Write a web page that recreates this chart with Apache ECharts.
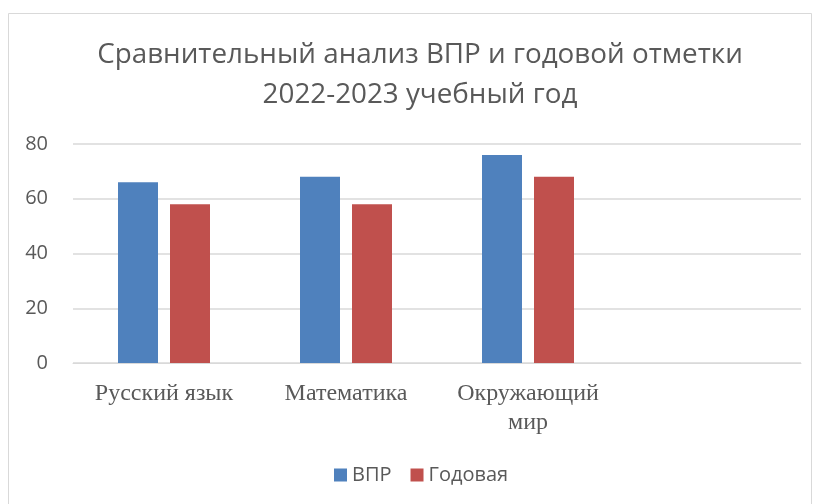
<!DOCTYPE html>
<html><head><meta charset="utf-8">
<script src="https://cdn.jsdelivr.net/npm/echarts@6/dist/echarts.min.js"></script>
<style>html,body{margin:0;padding:0;background:#fff}#c{width:819px;height:504px}</style>
</head><body><div id="c"></div>
<script>
const categories = ['Русский язык', 'Математика', 'Окружающий\nмир', ''];
const vprValues = [66, 68, 76, null];
const yearValues = [58, 58, 68, null];
const seriesNames = ['ВПР', 'Годовая'];

const chart = echarts.init(document.getElementById('c'), null, {renderer: 'canvas'});
chart.setOption({
  animation: false,
  backgroundColor: '#fff',
  graphic: [{
    type: 'rect', shape: {x: 8.5, y: 13.5, width: 803, height: 500},
    style: {fill: 'none', stroke: '#d9d9d9', lineWidth: 1}, silent: true
  }],
  title: {
    text: 'Сравнительный анализ ВПР и годовой отметки\n2022-2023 учебный год',
    left: 420, textAlign: 'center', top: 35, padding: 0,
    textStyle: {fontFamily: 'Open Sans', fontSize: 27.8, fontWeight: 'normal', color: '#595959', lineHeight: 40}
  },
  legend: {
    bottom: 14, left: 329,
    itemWidth: 13, itemHeight: 13, itemGap: 19,
    icon: 'rect',
    textStyle: {fontFamily: 'Open Sans', fontSize: 20, color: '#595959'},
    data: seriesNames
  },
  grid: {left: 73, right: 18, top: 144, bottom: 141, containLabel: false},
  xAxis: {
    type: 'category', data: categories,
    axisLine: {show: true, lineStyle: {color: '#d9d9d9', width: 1}},
    axisTick: {show: false},
    axisLabel: {fontFamily: 'Liberation Serif', fontSize: 24, color: '#595959', margin: 16, lineHeight: 29, interval: 0}
  },
  yAxis: {
    type: 'value', min: 0, max: 80, interval: 20,
    axisLine: {show: false}, axisTick: {show: false},
    splitLine: {lineStyle: {color: '#d9d9d9', width: 1.5}},
    axisLabel: {fontFamily: 'Open Sans', fontSize: 20, color: '#595959', margin: 25}
  },
  series: [
    {name: seriesNames[0], type: 'bar', data: vprValues, barWidth: 40, barGap: '30%',
     itemStyle: {color: '#4f81bd'}},
    {name: seriesNames[1], type: 'bar', data: yearValues, barWidth: 40,
     itemStyle: {color: '#c0504d'}}
  ]
});
</script></body></html>
